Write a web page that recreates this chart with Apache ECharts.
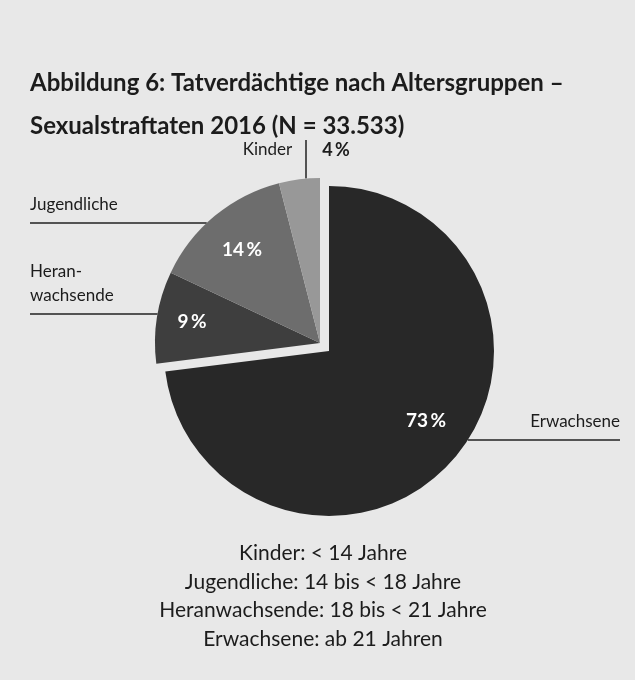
<!DOCTYPE html>
<html>
<head>
<meta charset="utf-8">
<script src="https://cdn.jsdelivr.net/npm/echarts@6/dist/echarts.min.js"></script>
<style>
html,body{margin:0;padding:0;background:#e8e8e8}
#main{width:635px;height:680px}
</style>
</head>
<body>
<div id="main"></div>
<script>
// Daten
var categories = ['Erwachsene', 'Heranwachsende', 'Jugendliche', 'Kinder'];
var shares = [73, 9, 14, 4];
var nameLabels = ['Erwachsene', 'Heran-\nwachsende', 'Jugendliche', 'Kinder'];
var titleLines = ['Abbildung 6: Tatverdächtige nach Altersgruppen –', 'Sexualstraftaten 2016 (N = 33.533)'];
var notes = ['Kinder: < 14 Jahre', 'Jugendliche: 14 bis < 18 Jahre', 'Heranwachsende: 18 bis < 21 Jahre', 'Erwachsene: ab 21 Jahren'];

// Layout
var greys = ['#282828', '#3e3e3e', '#6d6d6d', '#989898'];
var cx = 320, cy = 343, R = 165, explode = 12;
var pctPos = [[426, 421], [192, 322], [242, 250]];   // Prozent-Labels im Segment
var lineY = [440, 314, 223];                          // Hoehe der Fuehrungslinien
var font = 'Lato';
var ink = '#1c1c1c';

// Verschiebung des herausgezogenen Segments (Erwachsene)
var total = shares.reduce(function (a, b) { return a + b; }, 0);
var midA = (90 - shares[0] / total * 180) * Math.PI / 180;
var bigDx = Math.cos(midA) * explode, bigDy = -Math.sin(midA) * explode;

function pct(v) { return v + '\u2009%'; }

var chart = echarts.init(document.getElementById('main'));

// big = true -> nur das herausgezogene Segment sichtbar, sonst nur die kleinen
function slices(big) {
	return categories.map(function (c, i) {
		var on = big ? i === 0 : i !== 0;
		return {
			name: c, value: shares[i],
			itemStyle: { color: on ? greys[i] : 'transparent' },
			label: { show: on && i !== 3 }
		};
	});
}

var pctLabel = {
	show: true,
	position: 'inside',
	formatter: function (p) { return pct(p.value); },
	fontFamily: font, fontSize: 19, fontWeight: 'bold', color: '#ffffff'
};

function pctLayout(p) {
	var pos = pctPos[p.dataIndex];
	if (!pos) return {};
	return { x: pos[0], y: pos[1], align: 'center', verticalAlign: 'middle' };
}

var option = {
	backgroundColor: '#e8e8e8',
	animation: false,
	title: [
		{
			text: titleLines.join('\n'),
			left: 25,
			top: 57,
			textStyle: { fontFamily: font, fontSize: 24, fontWeight: 'bold', color: ink, lineHeight: 43 }
		},
		{
			text: notes.join('\n'),
			left: 318,
			top: 534,
			textAlign: 'center',
			textStyle: { fontFamily: font, fontSize: 21, fontWeight: 'normal', color: ink, lineHeight: 28.5 }
		}
	],
	series: [
		{
			// Erwachsene, herausgezogen
			type: 'pie',
			center: [cx + bigDx, cy + bigDy],
			radius: [0, R],
			startAngle: 90,
			silent: true,
			data: slices(true),
			label: pctLabel,
			labelLine: { show: false },
			labelLayout: pctLayout
		},
		{
			// kleine Segmente
			type: 'pie',
			center: [cx, cy],
			radius: [0, R],
			startAngle: 90,
			silent: true,
			data: slices(false),
			label: pctLabel,
			labelLine: { show: false },
			labelLayout: pctLayout
		},
		{
			// Beschriftungen aussen
			type: 'pie',
			center: [cx, cy],
			radius: [0, R],
			startAngle: 90,
			silent: true,
			itemStyle: { color: 'transparent' },
			data: categories.map(function (c, i) { return { name: c, value: shares[i] }; }),
			label: {
				show: true,
				position: 'outside',
				formatter: function (p) {
					if (p.dataIndex === 3) return '{n|' + nameLabels[3] + '}{g|}{p|' + pct(p.value) + '}';
					return nameLabels[p.dataIndex];
				},
				fontFamily: font, fontSize: 17, color: ink, lineHeight: 24,
				rich: {
					n: { fontFamily: font, fontSize: 17, color: ink, width: 55, align: 'right' },
					g: { width: 21 },
					p: { fontFamily: font, fontSize: 18, fontWeight: 'bold', color: ink, width: 40, align: 'left' }
				}
			},
			labelLine: { show: true, lineStyle: { color: '#222', width: 1.5 } },
			labelLayout: function (p) {
				var i = p.dataIndex;
				if (i === 3) {
					var lx = 306;
					var ly0 = cy - Math.sqrt(R * R - (lx - cx) * (lx - cx));
					return {
						x: lx - 55 - 11, y: 150, align: 'left', verticalAlign: 'middle',
						labelLinePoints: [[lx, ly0], [lx, ly0], [lx, 140]]
					};
				}
				var y = lineY[i];
				var side = i === 0 ? 1 : -1;
				var ox = i === 0 ? bigDx : 0, oy = i === 0 ? bigDy : 0;
				var dy = y - cy - oy;
				var ax = cx + ox + side * Math.sqrt(R * R - dy * dy);
				var ex = side > 0 ? 620 : 30;
				return {
					x: ex, y: y - 6, align: side > 0 ? 'right' : 'left', verticalAlign: 'bottom',
					labelLinePoints: [[ax, y], [ax, y], [ex, y]]
				};
			}
		}
	]
};

chart.setOption(option);
</script>
</body>
</html>
